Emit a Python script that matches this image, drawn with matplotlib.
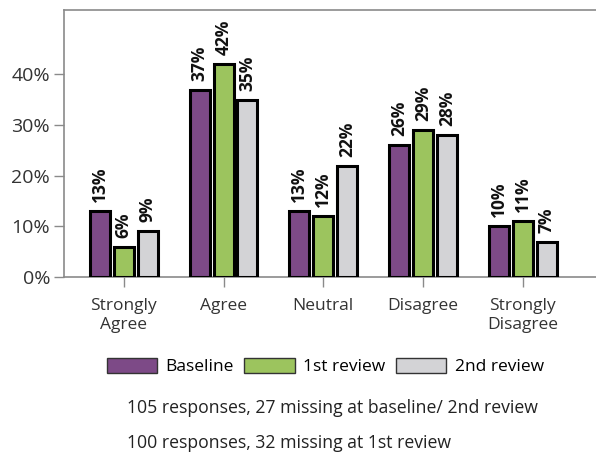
import numpy as np
import matplotlib
matplotlib.use("Agg")
import matplotlib.pyplot as plt
from matplotlib.patches import Patch

plt.rcParams['font.family'] = ['Open Sans', 'DejaVu Sans']

# data
categories = ["Strongly\nAgree", "Agree", "Neutral", "Disagree", "Strongly\nDisagree"]
series_names = ["Baseline", "1st review", "2nd review"]
baseline = [13, 37, 13, 26, 10]
review1 = [6, 42, 12, 29, 11]
review2 = [9, 35, 22, 28, 7]
yticks = [0, 10, 20, 30, 40]
notes = ["105 responses, 27 missing at baseline/ 2nd review",
         "100 responses, 32 missing at 1st review"]

colors = ["#7d4a87", "#9cc45e", "#d3d3d6"]
spine_col = "#8a8a8a"

fig = plt.figure(figsize=(5.96, 4.55), dpi=100)
ax = fig.add_axes([0.1074, 0.391, 0.90, 0.587])

x = np.arange(len(categories))
width = 0.20
offset = 0.24
for i, (vals, col) in enumerate(zip([baseline, review1, review2], colors)):
    pos = x + (i - 1) * offset
    ax.bar(pos, vals, width=width, color=col, edgecolor="black", linewidth=2.2, zorder=3)
    for p, v in zip(pos, vals):
        ax.annotate(f"{v}%", (p, v), xytext=(0, 6.5), textcoords="offset points",
                    rotation=90, ha="center", va="bottom", fontsize=12.5,
                    fontweight="bold", color="#111111")

ax.set_xlim(-0.6, 4.78)
ax.set_ylim(0, 52.7)
ax.set_yticks(yticks)
ax.set_yticklabels([f"{t}%" for t in yticks], fontsize=14, color="#333333")
ax.set_xticks(x)
ax.set_xticklabels(categories, fontsize=12.5, color="#333333", linespacing=1.25)
ax.tick_params(axis="both", color=spine_col, length=7, width=1)
ax.tick_params(axis="x", pad=8)
ax.tick_params(axis="y", pad=3)
for s in ["left", "bottom", "top"]:
    ax.spines[s].set_color(spine_col)
    ax.spines[s].set_linewidth(1.2)
ax.spines["right"].set_visible(False)

handles = [Patch(facecolor=c, edgecolor="#333333", linewidth=1) for c in colors]
fig.legend(handles, series_names, loc="center", bbox_to_anchor=(0.546, 0.195),
           ncol=3, frameon=False, fontsize=12.5, handlelength=2.9, handleheight=0.95,
           columnspacing=0.6, handletextpad=0.5)

fig.text(127 / 596, 1 - 408 / 455, notes[0], fontsize=12.7, va="center", ha="left", color="#222222")
fig.text(127 / 596, 1 - 443 / 455, notes[1], fontsize=12.7, va="center", ha="left", color="#222222")

fig.savefig("out.png", dpi=100)
